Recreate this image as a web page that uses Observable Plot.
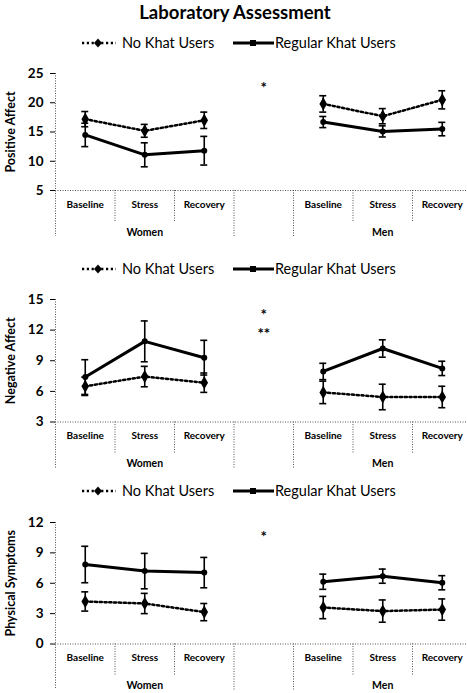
<!DOCTYPE html>
<html><head><meta charset="utf-8">
<script src="https://cdn.jsdelivr.net/npm/d3@7"></script>
<script src="https://cdn.jsdelivr.net/npm/@observablehq/plot@0.6"></script>
<style>
body{margin:0;background:#fff;font-family:Lato,"Open Sans",sans-serif;color:#000;}
#root{position:relative;width:467px;height:693px;overflow:hidden;background:#fff;}
.title{position:absolute;left:0;width:470px;top:0;text-align:center;font-weight:bold;font-size:18.5px;line-height:24px;}
.lg{position:absolute;height:20px;line-height:20px;font-size:14.5px;white-space:nowrap;}
.lg svg{position:absolute;top:4px;}
</style></head><body><div id="root"></div>
<script>
const chartTitle = "Laboratory Assessment";
const conditions = ["Baseline", "Stress", "Recovery"];
const groups = ["Women", "Men"];
const seriesNames = ["No Khat Users", "Regular Khat Users"];

// Positive Affect (Women B,S,R, Men B,S,R)
const paNoKhat = [17.2, 15.2, 17.0, 19.8, 17.7, 20.5];
const paNoKhatSE = [1.3, 1.1, 1.4, 1.4, 1.3, 1.55];
const paRegular = [14.5, 11.1, 11.8, 16.7, 15.1, 15.5];
const paRegularSE = [2.0, 2.05, 2.45, 0.95, 0.95, 1.15];
const paTicks = [5, 10, 15, 20, 25];
const paStars = [{label: "*", value: 23.1}];

// Negative Affect
const naNoKhat = [6.5, 7.45, 6.85, 5.9, 5.45, 5.45];
const naNoKhatSE = [0.9, 1.0, 0.95, 1.1, 1.25, 1.05];
const naRegular = [7.4, 10.9, 9.3, 7.95, 10.2, 8.25];
const naRegularSE = [1.7, 2.0, 1.7, 0.8, 0.85, 0.7];
const naTicks = [3, 6, 9, 12, 15];
const naStars = [{label: "*", value: 13.85}, {label: "**", value: 12.0}];

// Physical Symptoms
const psNoKhat = [4.2, 4.0, 3.15, 3.6, 3.25, 3.4];
const psNoKhatSE = [0.95, 1.0, 0.85, 1.1, 1.1, 1.05];
const psRegular = [7.85, 7.2, 7.05, 6.15, 6.7, 6.05];
const psRegularSE = [1.8, 1.75, 1.5, 0.75, 0.7, 0.7];
const psTicks = [0, 3, 6, 9, 12];
const psStars = [{label: "*", value: 10.9}];

const panels = [
  {label: "Positive Affect", noKhat: paNoKhat, noKhatSE: paNoKhatSE, regular: paRegular, regularSE: paRegularSE, ticks: paTicks, stars: paStars, legendTop: 33, svgTop: 61, plotH: 117},
  {label: "Negative Affect", noKhat: naNoKhat, noKhatSE: naNoKhatSE, regular: naRegular, regularSE: naRegularSE, ticks: naTicks, stars: naStars, legendTop: 259, svgTop: 287, plotH: 122.5},
  {label: "Physical Symptoms", noKhat: psNoKhat, noKhatSE: psNoKhatSE, regular: psRegular, regularSE: psRegularSE, ticks: psTicks, stars: psStars, legendTop: 481, svgTop: 509.5, plotH: 121.5}
];

const root = document.getElementById("root");
const t = document.createElement("div");
t.className = "title"; t.textContent = chartTitle; root.appendChild(t);

function legend(top) {
  const mk = (left, html) => { const d = document.createElement("div"); d.className = "lg"; d.style.left = left + "px"; d.style.top = top + "px"; d.innerHTML = html; root.appendChild(d); };
  mk(81, `<svg width="37" height="12"><line x1="1" y1="6" x2="35" y2="6" stroke="#000" stroke-width="2.5" stroke-dasharray="2.2,2.6"/><path d="M17,1.5 L21,6 L17,10.5 L13,6Z" fill="#000"/></svg>`);
  mk(122, `<span>${seriesNames[0]}</span>`);
  mk(233, `<svg width="42" height="12"><line x1="0" y1="6" x2="41" y2="6" stroke="#000" stroke-width="3"/><rect x="17" y="3" width="6" height="6" fill="#000"/></svg>`);
  mk(275, `<span>${seriesNames[1]}</span>`);
}

const per = conditions.length + 1; // slots per group incl. gap
const nSlots = groups.length * per - 1;
const gapSlot = conditions.length;
const dotted = {stroke: "#555", strokeDasharray: "1,1.5", strokeWidth: 1};

panels.forEach(p => {
  legend(p.legendTop);
  const rows = [];
  groups.forEach((g, gi) => conditions.forEach((c, ci) => {
    const i = gi * conditions.length + ci;
    const slot = gi * per + ci;
    rows.push({slot, group: g, condition: c, series: seriesNames[0], value: p.noKhat[i], se: p.noKhatSE[i]});
    rows.push({slot, group: g, condition: c, series: seriesNames[1], value: p.regular[i], se: p.regularSE[i]});
  }));
  const nk = rows.filter(d => d.series === seriesNames[0]);
  const rg = rows.filter(d => d.series === seriesNames[1]);
  const labels = nk; // one per slot
  const groupLabels = groups.map((g, gi) => ({group: g, slot: gi * per + (conditions.length - 1) / 2}));
  const longB = [], shortB = [];
  groups.forEach((g, gi) => {
    longB.push(gi * per - 0.5, gi * per + conditions.length - 0.5);
    for (let k = 1; k < conditions.length; k++) shortB.push(gi * per + k - 0.5);
  });
  const yMin = d3.min(p.ticks), yMax = d3.max(p.ticks);
  const mt = 12, mb = 52;
  const svg = Plot.plot({
    width: 467, height: mt + p.plotH + mb,
    marginTop: mt, marginBottom: mb, marginLeft: 55, marginRight: 0,
    style: {fontFamily: "Lato, sans-serif", background: "transparent", color: "#000"},
    x: {type: "linear", domain: [-0.5, nSlots - 0.5], range: [55, 55 + nSlots * 59.5], axis: null},
    y: {domain: [yMin, yMax], axis: null},
    marks: [
      Plot.ruleY([yMin], dotted),
      Plot.ruleX([-0.5], {...dotted, insetBottom: -46}),
      Plot.ruleX(longB.filter(b => b > -0.5), {x: d => d, y1: () => yMin, y2: () => yMin, insetBottom: -46, ...dotted}),
      Plot.ruleX(shortB, {x: d => d, y1: () => yMin, y2: () => yMin, insetBottom: -32, ...dotted}),
      Plot.axisY(p.ticks, {tickSize: 5, tickPadding: 7, fontSize: 13.5, fontWeight: "bold", label: null}),
      Plot.text([p.label], {frameAnchor: "left", textAnchor: "middle", rotate: -90, dx: -45, fontSize: 12.5, fontWeight: "bold"}),
      Plot.text(labels, {x: "slot", text: "condition", frameAnchor: "bottom", dy: 17, fontSize: 10, fontWeight: "bold"}),
      Plot.text(groupLabels, {x: "slot", text: "group", frameAnchor: "bottom", dy: 45, fontSize: 10.5, fontWeight: "bold"}),
      Plot.ruleX(rows, {x: "slot", y1: d => d.value - d.se, y2: d => d.value + d.se, strokeWidth: 1.6}),
      Plot.ruleY(rows, {x1: "slot", x2: "slot", y: d => d.value - d.se, insetLeft: -3.5, insetRight: -3.5, strokeWidth: 1.6}),
      Plot.ruleY(rows, {x1: "slot", x2: "slot", y: d => d.value + d.se, insetLeft: -3.5, insetRight: -3.5, strokeWidth: 1.6}),
      Plot.line(nk, {x: "slot", y: "value", z: "group", strokeWidth: 2.5, strokeDasharray: "2.2,2.6"}),
      Plot.line(rg, {x: "slot", y: "value", z: "group", strokeWidth: 3}),
      Plot.dot(nk, {x: "slot", y: "value", symbol: "diamond", r: 4, fill: "#000"}),
      Plot.dot(rg, {x: "slot", y: "value", symbol: "circle", r: 3, fill: "#000"}),
      Plot.text(p.stars, {x: () => gapSlot, y: "value", text: "label", fontSize: 15, fontWeight: "bold", dy: 4})
    ]
  });
  svg.style.position = "absolute";
  svg.style.left = "0px";
  svg.style.top = p.svgTop + "px";
  root.appendChild(svg);
});
</script></body></html>
